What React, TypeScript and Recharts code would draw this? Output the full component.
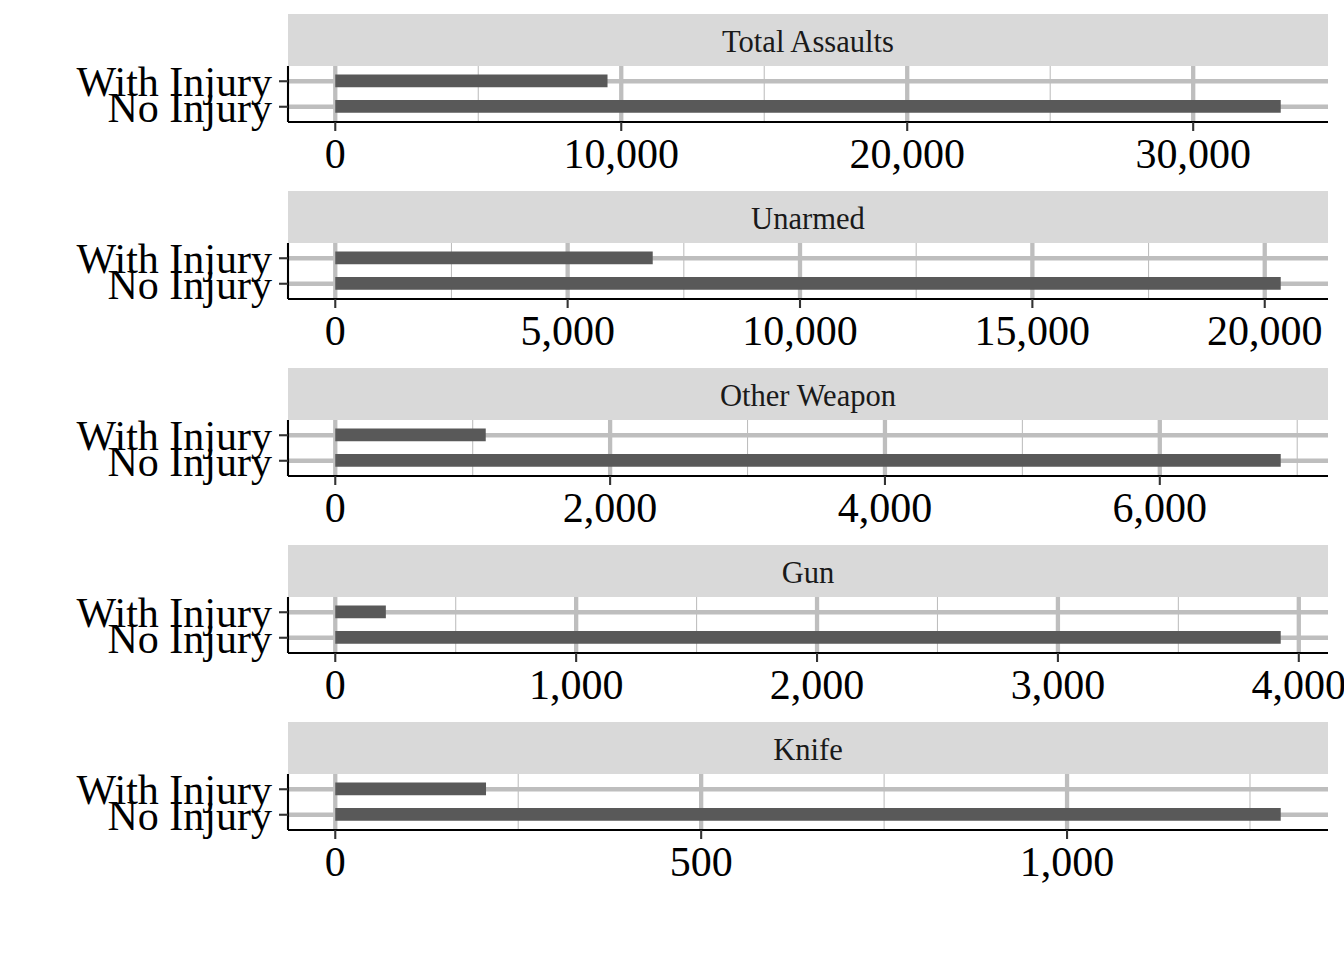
import React from 'react';
import { BarChart, Bar, XAxis, YAxis, CartesianGrid } from 'recharts';

const facets = ['Total Assaults', 'Unarmed', 'Other Weapon', 'Gun', 'Knife'];
const categories = ['With Injury', 'No Injury'];
const withInjury = [9520, 6831, 1095, 210, 206];
const noInjury = [33061, 20344, 6880, 3925, 1292];
const majorTicks = [
  [0, 10000, 20000, 30000],
  [0, 5000, 10000, 15000, 20000],
  [0, 2000, 4000, 6000],
  [0, 1000, 2000, 3000, 4000],
  [0, 500, 1000],
];
const minorTicks = [
  [5000, 15000, 25000],
  [2500, 7500, 12500, 17500],
  [1000, 3000, 5000, 7000],
  [500, 1500, 2500, 3500],
  [250, 750, 1250],
];

const FONT = '"Liberation Serif", "Times New Roman", serif';
const fmt = (v: number) => v.toLocaleString('en-US');

function Facet({ i }: { i: number }) {
  const top = 14 + i * 177;
  const data = categories.map((c, k) => ({
    label: c,
    value: k === 0 ? withInjury[i] : noInjury[i],
  }));
  const m = noInjury[i];
  return (
    <>
      <div
        style={{
          position: 'absolute',
          left: 288,
          top,
          width: 1040,
          height: 52,
          overflow: 'hidden',
          background: '#D9D9D9',
          color: '#1A1A1A',
          fontFamily: FONT,
          fontSize: 30.6,
          lineHeight: '56px',
          textAlign: 'center',
        }}
      >
        {facets[i]}
      </div>
      <div style={{ position: 'absolute', left: 0, top: top + 52 }}>
        <BarChart
          width={1344}
          height={116}
          data={data}
          layout="vertical"
          margin={{ top: 0, right: 16, bottom: 0, left: 0 }}
        >
          <CartesianGrid
            horizontal={false}
            verticalValues={minorTicks[i]}
            stroke="#BEBEBE"
            strokeWidth={1.07}
          />
          <CartesianGrid
            horizontalValues={categories}
            verticalValues={majorTicks[i]}
            stroke="#BEBEBE"
            strokeWidth={4.3}
          />
          <XAxis
            type="number"
            domain={[-0.05 * m, 1.05 * m]}
            ticks={majorTicks[i]}
            interval={0}
            tickFormatter={fmt}
            height={60}
            tickSize={9}
            tickMargin={7}
            axisLine={{ stroke: '#000000', strokeWidth: 2.1 }}
            tickLine={{ stroke: '#333333', strokeWidth: 2.1 }}
            tick={{ fill: '#000000', fontSize: 42, fontFamily: FONT }}
          />
          <YAxis
            type="category"
            dataKey="label"
            width={288}
            interval={0}
            padding={{ top: 2.5, bottom: 2.5 }}
            tickSize={9}
            tickMargin={7}
            axisLine={{ stroke: '#000000', strokeWidth: 2.1 }}
            tickLine={{ stroke: '#333333', strokeWidth: 2.1 }}
            tick={{ fill: '#000000', fontSize: 42, fontFamily: FONT }}
          />
          <Bar dataKey="value" fill="#595959" barSize={12.7} isAnimationActive={false} />
        </BarChart>
      </div>
    </>
  );
}

export default function App() {
  return (
    <div
      style={{
        position: 'absolute',
        left: 0,
        top: 0,
        width: 1344,
        height: 960,
        background: '#FFFFFF',
        overflow: 'hidden',
      }}
    >
      {facets.map((_, i) => (
        <Facet key={i} i={i} />
      ))}
    </div>
  );
}
